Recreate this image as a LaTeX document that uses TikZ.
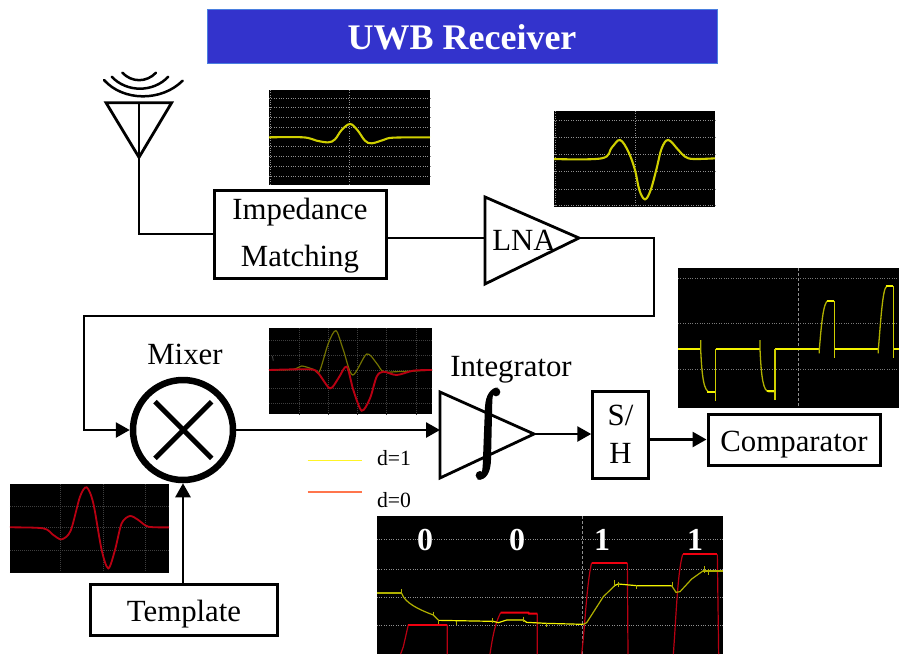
\documentclass[tikz,border=0pt]{standalone}
\usepackage{fontspec}
\setmainfont{Liberation Serif}
\usetikzlibrary{arrows.meta}
\definecolor{titleblue}{HTML}{3333CC}
\definecolor{titleedge}{HTML}{4A7FE0}
\definecolor{traceyel}{HTML}{CFCF00}
\definecolor{tracebright}{HTML}{F2F200}
\definecolor{traceolive}{HTML}{B0B000}
\definecolor{tracered}{HTML}{F00010}
\definecolor{tracedark}{HTML}{B80012}
\definecolor{gridgrey}{HTML}{909090}
\definecolor{griddim}{HTML}{3E3E3E}
\tikzset{
  zoomat/.style 2 args={shift={(#1,#2)},x=0.33333pt,y=-0.33333pt},
  wire/.style={line width=2.7pt,line join=miter},
  arrowwire/.style={wire,-{Triangle[length=14pt,width=15pt]}},
  blockbox/.style={draw,line width=3pt,fill=white,font=\fontsize{30.8}{47}\selectfont,inner sep=0pt},
  shape line/.style={line width=2.8pt,line join=miter},
  lbl/.style={font=\fontsize{30.8}{36}\selectfont,inner sep=0pt},
  smalllbl/.style={font=\fontsize{21.7}{26}\selectfont,inner sep=0pt},
  scopebg/.style={fill=black,draw=none},
  griddot/.style={draw=gridgrey,line width=1pt,dash pattern=on 1pt off 1.4pt},
  griddimdot/.style={draw=griddim,line width=0.9pt,dash pattern=on 1.2pt off 0.8pt},
  binlbl/.style={font=\bfseries\fontsize{32}{36}\selectfont,text=white,inner sep=0pt},
}
\newcommand{\lowertext}[2]{\raisebox{-#1}[0pt][0pt]{#2}}
\begin{document}
\begin{tikzpicture}[x=1pt,y=-1pt]
\useasboundingbox (0,0) rectangle (899,654);
\fill[white] (0,0) rectangle (899,654);

% title
\node[fill=titleblue,draw=titleedge,line width=1pt,minimum width=510pt,minimum height=54pt,inner sep=0pt,
  text=white,font=\bfseries\fontsize{36}{40}\selectfont] (title) at (462,36) {\lowertext{13pt}{UWB Receiver}};

% ---------- scope 1
\fill[scopebg] (269,90) rectangle (430,185);
\begin{scope}[zoomat={90}{60}]
  \foreach \yy in {115,143,172,203,260,290,320,350} \draw[griddot] (537,\yy) -- (1020,\yy);
  \draw[griddot] (778,90) -- (778,375);
  \draw[griddot] (540,90) -- (540,375);
  \draw[traceyel,line width=2.1pt] plot[smooth,tension=0.6] coordinates {(537,232) (640,232) (680,242) (715,247) (735,238) (755,210) (780,192) (802,210) (825,242) (845,250) (880,240) (910,233) (1020,232)};
\end{scope}

% ---------- scope 2
\fill[scopebg] (554,111) rectangle (715,206.7);
\begin{scope}[zoomat={550}{105}]
  \foreach \yy in {47,98,148,200,252,302} \draw[griddot] (12,\yy) -- (495,\yy);
  \draw[griddot] (255,18) -- (255,305);
  \draw[griddot] (15,18) -- (15,305);
  \draw[traceyel,line width=2.1pt] plot[smooth,tension=0.6] coordinates {(12,162) (155,160) (185,128) (210,105) (235,140) (255,195) (268,255) (285,283) (302,255) (320,190) (335,130) (355,105) (385,135) (405,155) (430,162) (495,160)};
\end{scope}

% ---------- scope 3
\fill[scopebg] (678,268) rectangle (899,407.7);
\begin{scope}[zoomat={550}{105}]
  \foreach \yy in {520,656,793} \draw[griddot,draw=gridgrey!120!white] (384,\yy) -- (1047,\yy);
  \draw[griddot,dash pattern=on 3pt off 2pt] (745,489) -- (745,908);
  \draw[tracebright,line width=2.2pt] (384,733) -- (452,733);
  \draw[tracebright,line width=2.2pt] (497,733) -- (630,733);
  \draw[tracebright,line width=2.2pt] (675,733) -- (808,733);
  \draw[tracebright,line width=2.2pt] (853,733) -- (985,733);
  \draw[tracebright,line width=2.2pt] (1030,733) -- (1047,733);
  \draw[traceolive,line width=1.3pt] (452,705) -- (452,733) .. controls (456,820) and (462,860) .. (480,862) -- (497,862);
  \draw[tracebright,line width=2pt] (472,861) -- (497,861);
  \draw[traceyel,line width=1.2pt] (497,888) -- (497,733);
  \draw[traceolive,line width=1.3pt] (630,705) -- (630,733) .. controls (634,820) and (640,858) .. (656,860) -- (675,860);
  \draw[tracebright,line width=2pt] (650,859) -- (675,859);
  \draw[traceyel,line width=1.2pt] (675,885) -- (675,733);
  \draw[traceolive,line width=1.3pt] (808,745) -- (808,733) .. controls (814,660) and (820,590) .. (834,587);
  \draw[tracebright,line width=2pt] (830,587) -- (853,587);
  \draw[traceyel,line width=1.2pt] (853,587) -- (853,760);
  \draw[traceolive,line width=1.3pt] (985,745) -- (985,733) .. controls (992,650) and (998,548) .. (1010,544);
  \draw[tracebright,line width=2pt] (1007,543) -- (1030,543);
  \draw[traceyel,line width=1.2pt] (1030,543) -- (1030,760);
\end{scope}

% ---------- scope 4 (mixer output)
\fill[scopebg] (269,328) rectangle (432,414.3);
\begin{scope}[zoomat={260}{320}]
  \foreach \yy in {60,105,150,205,250} \draw[griddimdot] (27,\yy) -- (516,\yy);
  \foreach \xx in {118,205,292,380,470} \draw[griddimdot] (\xx,24) -- (\xx,283);
  \draw[griddim,line width=1pt] (37,108) -- (40,122);
  \draw[color=traceolive!65!black,line width=1.2pt] plot[smooth,tension=0.5] coordinates {(27,150) (100,148) (125,138) (160,148) (178,155) (205,70) (228,32) (250,90) (278,165) (320,102) (350,130) (370,155) (410,155) (460,153) (516,150)};
  \draw[color=tracedark,line width=1.9pt] plot[smooth,tension=0.5] coordinates {(27,150) (150,148) (175,160) (210,205) (235,175) (260,140) (280,210) (305,272) (330,235) (350,170) (370,155) (410,165) (460,152) (516,150)};
\end{scope}

% ---------- scope 5 (template)
\fill[scopebg] (10,484) rectangle (169,573.3);
\begin{scope}[zoomat={0}{380}]
  \foreach \yy in {378,443,510} \draw[griddimdot] (30,\yy) -- (507,\yy);
  \foreach \xx in {182,310,435} \draw[griddimdot] (\xx,312) -- (\xx,580);
  \draw[griddim!130!white,line width=1pt] (30,577) -- (507,577);
  \draw[griddim!130!white,line width=1pt] (37,360) -- (50,375);
  \draw[color=tracedark,line width=1.8pt] plot[smooth,tension=0.5] coordinates {(30,442) (130,445) (160,465) (185,478) (212,452) (240,350) (260,322) (280,370) (305,510) (325,565) (345,510) (365,430) (390,408) (415,420) (445,440) (507,442)};
\end{scope}

% ---------- scope 6 (bottom traces)
\fill[scopebg] (377,516) rectangle (723,654);
\begin{scope}[zoomat={370}{510}]
  \clip (20,18) rectangle (1060,432);
  \foreach \yy in {88,177,262,347} \draw[griddot] (20,\yy) -- (1060,\yy);
  \draw[griddot,dash pattern=on 3pt off 2pt] (637,18) -- (637,432);
  % red traces
  \draw[tracedark,line width=1.2pt] (92,432) -- (100,410) -- (115,344) (232,344) -- (232,432);
  \draw[tracered,line width=2pt] (115,344) -- (232,344);
  \draw[tracedark,line width=1.2pt] (360,432) .. controls (368,380) and (375,340) .. (392,308) (502,311) -- (502,432);
  \draw[tracered,line width=2pt] (392,308) -- (475,308) -- (477,311) -- (502,311);
  \draw[tracedark,line width=1.2pt] (635,432) .. controls (645,350) and (650,220) .. (665,158) (772,158) -- (774,432);
  \draw[tracered,line width=2pt] (665,158) -- (772,158);
  \draw[tracedark,line width=1.2pt] (910,432) .. controls (918,330) and (922,190) .. (938,133) (1042,133) -- (1046,432);
  \draw[tracered,line width=2pt] (938,133) -- (1042,133);
  % yellow trace
  \draw[traceolive,line width=1.7pt] (22,250) -- (95,250);
  \draw[traceolive,line width=1.2pt] (95,250) .. controls (105,280) and (150,300) .. (190,315) -- (205,330);
  \draw[tracebright,line width=1.2pt] (205,331) -- (370,334) -- (385,338) -- (410,330) -- (460,330) -- (470,337) -- (528,340) -- (640,343);
  \draw[traceolive,line width=1.2pt] (640,343) -- (650,338) -- (700,260) -- (735,226);
  \draw[tracebright,line width=1.2pt] (735,226) -- (745,222) -- (800,227) -- (905,227);
  \draw[traceolive,line width=1.2pt] (905,227) -- (918,247) -- (930,245) -- (965,207) -- (1000,182);
  \draw[traceolive,line width=1.9pt] (1000,182) -- (1060,182);
  \foreach \xx/\ya/\yb in {95/238/250,190/305/318,205/330/342,260/332/345,368/325/338,460/320/335,528/338/350,733/210/232,745/215/230,800/225/238,908/215/230,1003/168/190,1015/178/195}
    \draw[traceolive,line width=0.8pt] (\xx,\ya) -- (\xx,\yb);
\end{scope}
\node[binlbl] (b0a) at (425,540) {0};
\node[binlbl] (b0b) at (517,540) {0};
\node[binlbl] (b1a) at (602,540) {1};
\node[binlbl] (b1b) at (695,540) {1};

% ---------- antenna
\begin{scope}[zoomat={90}{60}]
  \draw[line width=2.5pt,line cap=round] (97,38) .. controls (125,68) and (170,68) .. (198,38);
  \draw[line width=2.5pt,line cap=round] (65,50) .. controls (110,98) and (190,98) .. (235,50);
  \draw[line width=2.5pt,line cap=round] (42,60) .. controls (100,125) and (215,125) .. (278,62);
  \coordinate (anttop) at (147,128);
  \coordinate (ant) at (147,292);
  \draw[shape line] (48,128) -- (245,128) -- (ant) -- cycle;
  \draw[shape line] (anttop) -- (ant);
\end{scope}

% ---------- blocks
\node[blockbox,align=center,minimum width=172pt,minimum height=88pt] (imp) at (300,234) {\rule{0pt}{25pt}Impedance\\Matching};
\coordinate (lnain) at (485,238);
\coordinate (lnatip) at (579,238);
\draw[shape line,fill=white] (485,197) -- (lnatip) -- (485,284) -- cycle;
\node[lbl] (lna) at (524,240) {LNA};
\coordinate (bend1) at (654,238);
\coordinate (bend2) at (654,316);
\coordinate (bend3) at (84,316);

\node[circle,draw,line width=6.5pt,minimum size=100pt,inner sep=0pt] (mix) at (183,430) {};
\draw[line width=5pt] (155,401.7) -- (211.7,458.3);
\draw[line width=5pt] (211.7,401.7) -- (155,458.3);
\node[lbl] (mixlbl) at (185,354) {Mixer};

\coordinate (intin) at (440,430);
\coordinate (inttip) at (534,434);
\draw[shape line] (440,392) -- (inttip) -- (440,478) -- cycle;
\begin{scope}[zoomat={260}{320}]
  \fill (708,216) circle (13);
  \fill (660,466) circle (13);
  \fill (714,203) .. controls (692,203) and (677,225) .. (675,260)
     -- (668,440) .. controls (667,458) and (661,472) .. (652,479)
     .. controls (680,482) and (692,455) .. (693,420)
     -- (697,240) .. controls (698,220) and (704,208) .. (714,203) -- cycle;
\end{scope}
\node[lbl] (intlbl) at (511,370) {Integrator};

\node[blockbox,align=center,font=\fontsize{30.8}{38}\selectfont,minimum width=55.5pt,minimum height=87pt] (sh) at (620.5,434.5) {S/\\H};
\node[blockbox,minimum width=172pt,minimum height=51pt] (comp) at (794,439.5) {\lowertext{11.5pt}{Comparator}};
\node[blockbox,minimum width=186.5pt,minimum height=51pt] (tmpl) at (184,609.5) {\lowertext{11.5pt}{Template}};

% legend
\coordinate (y1a) at (307.7,460.7);
\coordinate (y1b) at (361.7,460.7);
\coordinate (r1a) at (307.7,492);
\coordinate (r1b) at (361.7,492);
\draw[yellow!85!white,line width=1.3pt] (y1a) -- (y1b);
\draw[red!55!orange!70!white,line width=1.3pt] (r1a) -- (r1b);
\node[smalllbl] (d1) at (394,458) {d=1};
\node[smalllbl] (d0) at (394,500) {d=0};

% ---------- connectors
\draw[wire] (ant) |- (imp.west);
\draw[wire] (imp.east |- lnain) -- (lnain);
\draw[arrowwire] (lnatip) -- (bend1) -- (bend2) -- (bend3) |- (mix.west);
\draw[arrowwire] (mix.east) -- (intin);
\draw[arrowwire] (inttip) -- (inttip -| sh.west);
\draw[arrowwire] (sh.east |- comp.west) -- (comp.west);
\draw[arrowwire] (tmpl.north -| mix.south) -- (mix.south);
\end{tikzpicture}
\end{document}
